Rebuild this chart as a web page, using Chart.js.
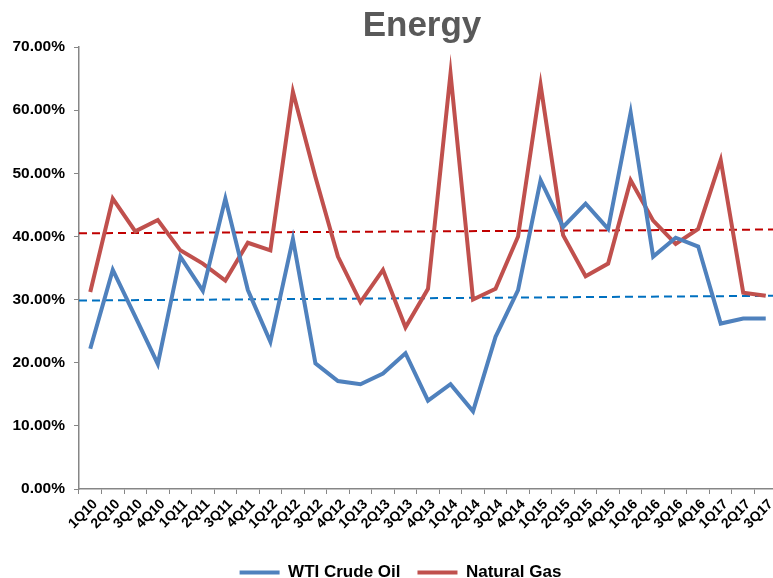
<!DOCTYPE html>
<html>
<head>
<meta charset="utf-8">
<script src="https://cdn.jsdelivr.net/npm/chart.js@4"></script>
<style>
  html, body { margin: 0; padding: 0; overflow: hidden; background: #fff; }
  canvas { display: block; }
</style>
</head>
<body>
<canvas id="energyChart" width="780" height="578"></canvas>
<script>
const quarters = ['1Q10','2Q10','3Q10','4Q10','1Q11','2Q11','3Q11','4Q11','1Q12','2Q12','3Q12','4Q12',
  '1Q13','2Q13','3Q13','4Q13','1Q14','2Q14','3Q14','4Q14','1Q15','2Q15','3Q15','4Q15',
  '1Q16','2Q16','3Q16','4Q16','1Q17','2Q17','3Q17'];

const wtiCrude = [22.2, 34.7, 27.3, 19.8, 36.8, 31.4, 46.0, 31.5, 23.3, 39.6, 19.9, 17.1,
  16.6, 18.3, 21.5, 14.0, 16.6, 12.3, 24.1, 31.5, 48.9, 41.5, 45.2, 41.2,
  59.6, 36.8, 39.8, 38.4, 26.2, 27.0, 27.0];

const naturalGas = [31.2, 46.0, 40.8, 42.6, 37.8, 35.7, 33.0, 39.0, 37.8, 62.9, 49.4, 36.8,
  29.6, 34.7, 25.6, 31.7, 65.8, 30.0, 31.7, 40.0, 64.0, 40.2, 33.7, 35.7,
  48.9, 42.5, 38.8, 41.2, 52.1, 31.1, 30.6];

// trend lines: value at left edge and right edge of the plot
const wtiTrend = [29.85, 30.6];
const gasTrend = [40.5, 41.1];

const yTicks = [0, 10, 20, 30, 40, 50, 60, 70];

const FONT = '"Liberation Sans", Arial, sans-serif';

// title roughly centred over the plot area, like the original
const titlePlugin = {
  id: 'plotTitle',
  afterDraw(chart) {
    const { ctx, chartArea } = chart;
    ctx.save();
    ctx.font = 'bold 35px ' + FONT;
    ctx.fillStyle = '#595959';
    ctx.textAlign = 'center';
    ctx.textBaseline = 'alphabetic';
    ctx.fillText('Energy', (chartArea.left + chartArea.right) / 2 - 6, 36);
    ctx.restore();
  }
};

// nudge the legend a bit right so it sits under the plot like the original
const legendShift = {
  id: 'legendShift',
  afterLayout(chart) {
    if (chart.legend) {
      chart.legend.left += 12;
      chart.legend.right += 12;
    }
  }
};

const trendPoints = (arr) => [{ x: 0, y: arr[0] }, { x: 1, y: arr[1] }];

new Chart(document.getElementById('energyChart'), {
  type: 'line',
  data: {
    labels: quarters,
    datasets: [
      {
        label: 'WTI Crude Oil',
        data: wtiCrude,
        borderColor: '#4F81BD',
        backgroundColor: '#4F81BD',
        borderWidth: 4,
        pointRadius: 0,
        tension: 0,
        xAxisID: 'x'
      },
      {
        label: 'Natural Gas',
        data: naturalGas,
        borderColor: '#C0504D',
        backgroundColor: '#C0504D',
        borderWidth: 4,
        pointRadius: 0,
        tension: 0,
        xAxisID: 'x'
      },
      {
        label: 'wtiTrend',
        data: trendPoints(wtiTrend),
        borderColor: '#0070C0',
        borderWidth: 2,
        borderDash: [8, 5],
        pointRadius: 0,
        xAxisID: 'xTrend'
      },
      {
        label: 'gasTrend',
        data: trendPoints(gasTrend),
        borderColor: '#C00000',
        borderWidth: 2,
        borderDash: [8, 5],
        pointRadius: 0,
        xAxisID: 'xTrend'
      }
    ]
  },
  options: {
    responsive: false,
    animation: false,
    layout: { padding: { top: 47, right: 3, bottom: -13, left: 0 } },
    scales: {
      x: {
        type: 'category',
        offset: true,
        afterFit(scale) {
          scale.height = 58;
        },
        grid: {
          display: true,
          drawOnChartArea: false,
          color: '#868686',
          tickLength: 5,
          offset: true
        },
        border: { color: '#868686', width: 1.5 },
        ticks: {
          minRotation: 45,
          maxRotation: 45,
          autoSkip: false,
          labelOffset: 5,
          color: '#000',
          padding: 2,
          font: { family: FONT, size: 14, weight: 'bold' }
        }
      },
      xTrend: {
        type: 'linear',
        min: 0,
        max: 1,
        display: false
      },
      y: {
        min: 0,
        max: 70,
        afterBuildTicks(scale) {
          scale.ticks = yTicks.map(v => ({ value: v }));
        },
        afterFit(scale) {
          scale.width = 79;
        },
        grid: {
          display: true,
          drawOnChartArea: false,
          color: '#868686',
          tickLength: 5
        },
        border: { color: '#868686', width: 1.5 },
        ticks: {
          color: '#000',
          padding: 9,
          font: { family: FONT, size: 15.5, weight: 'bold' },
          callback: (v) => v.toFixed(2) + '%'
        }
      }
    },
    plugins: {
      title: { display: false },
      tooltip: { enabled: false },
      legend: {
        position: 'bottom',
        labels: {
          filter: (item) => item.text === 'WTI Crude Oil' || item.text === 'Natural Gas',
          usePointStyle: true,
          pointStyle: 'line',
          pointStyleWidth: 40,
          boxWidth: 40,
          padding: 17,
          color: '#000',
          font: { family: FONT, size: 17, weight: 'bold' }
        }
      }
    }
  },
  plugins: [titlePlugin, legendShift]
});
</script>
</body>
</html>
